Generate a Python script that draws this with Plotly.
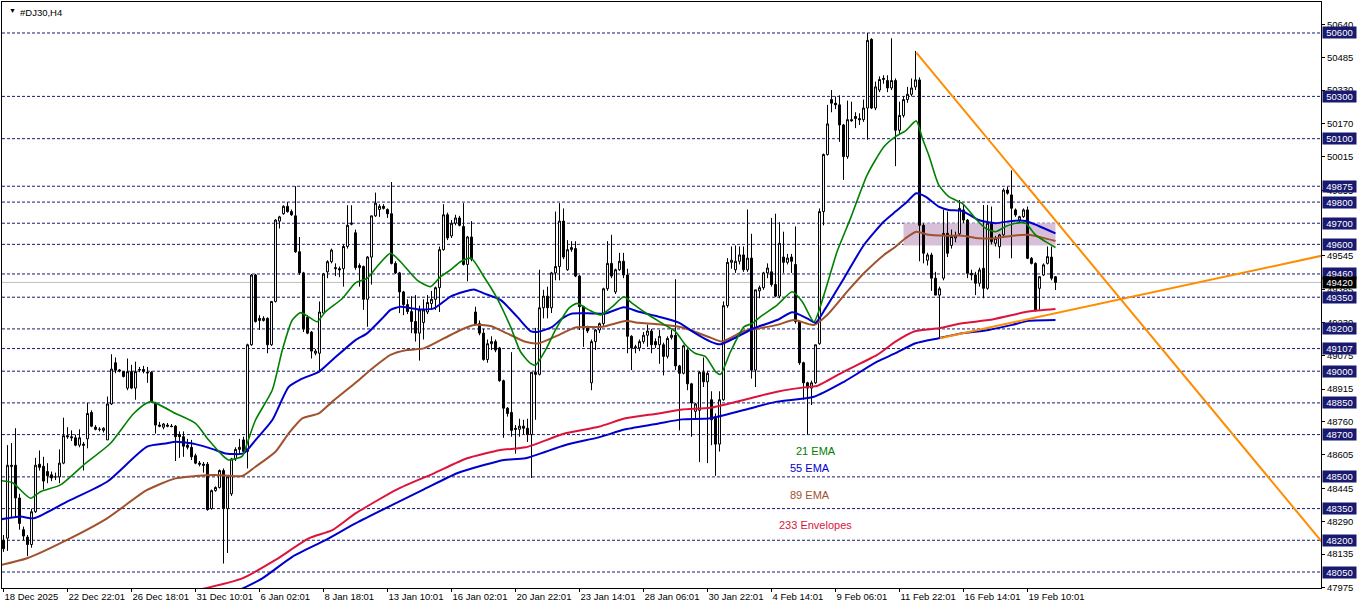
import plotly.graph_objects as go

# ---------------- data ----------------
ohlc_rows = [
(48200,48225,48145,48160),(48210,48650,48150,48555),(48555,48660,48310,48550),(48555,48730,48310,48400),
(48400,48420,48250,48280),(48250,48265,48200,48220),(48215,48225,48125,48180),(48180,48350,48165,48335),
(48335,48590,48330,48555),(48560,48625,48530,48545),(48550,48595,48440,48480),(48525,48565,48470,48505),
(48510,48525,48480,48495),(48500,48520,48485,48500),(48500,48630,48470,48565),(48565,48780,48560,48695),
(48695,48735,48680,48690),(48690,48720,48670,48685),(48685,48700,48645,48650),(48650,48725,48640,48685),
(48655,48665,48530,48650),(48680,48850,48635,48800),(48805,48815,48735,48740),(48735,48745,48720,48725),
(48725,48735,48715,48725),(48720,48735,48710,48730),(48675,48880,48675,48845),(48845,49080,48840,49010),
(49040,49065,48990,49005),(49000,49010,48995,49005),(48998,49000,48970,48975),(48920,49060,48910,48998),
(48998,49030,48915,48920),(48920,49045,48865,48998),(49005,49020,48995,49008),(49008,49025,48990,49000),
(48995,49020,48945,48992),(48995,49000,48850,48855),(48850,48855,48705,48745),(48745,48760,48735,48740),
(48735,48755,48725,48750),(48745,48755,48735,48740),(48740,48750,48735,48738),(48740,48745,48575,48690),
(48700,48715,48590,48690),(48690,48715,48595,48645),(48650,48680,48630,48640),(48640,48675,48580,48595),
(48600,48610,48560,48565),(48565,48575,48550,48560),(48560,48570,48520,48555),(48560,48570,48340,48345),
(48350,48440,48345,48435),(48435,48455,48430,48450),(48450,48535,48445,48530),(48530,48540,48090,48350),
(48350,48505,48140,48500),(48420,48590,48410,48585),(48585,48640,48575,48630),(48630,48680,48610,48640),
(48675,48690,48615,48620),(48620,49130,48540,49125),(49125,49460,49120,49455),(49455,49460,49230,49235),
(49250,49265,49195,49240),(49240,49260,49235,49250),(49250,49255,49085,49125),(49125,49330,49120,49330),
(49330,49720,49325,49715),(49710,49735,49675,49730),(49745,49785,49740,49780),(49780,49800,49750,49755),
(49755,49765,49735,49740),(49735,49875,49560,49565),(49565,49635,49455,49465),(49465,49470,49185,49200),
(49255,49265,49175,49180),(49185,49190,49060,49095),(49085,49105,49075,49095),(49085,49330,48995,49280),
(49275,49465,49270,49460),(49470,49525,49440,49518),(49518,49580,49510,49573),(49490,49510,49450,49485),
(49485,49495,49445,49480),(49485,49600,49400,49590),(49590,49785,49580,49690),(49695,49785,49690,49700),
(49655,49670,49480,49490),(49500,49510,49400,49490),(49495,49500,49290,49340),(49340,49545,49210,49540),
(49540,49735,49410,49735),(49735,49845,49730,49795),(49765,49790,49730,49780),(49780,49790,49765,49770),
(49765,49770,49725,49745),(49745,49895,49505,49510),(49510,49520,49460,49465),(49465,49470,49275,49375),
(49375,49380,49265,49315),(49315,49340,49270,49282),(49282,49355,49180,49235),(49235,49360,49140,49180),
(49180,49310,49050,49290),(49230,49340,49150,49290),(49280,49360,49270,49325),(49320,49380,49290,49340),
(49340,49400,49290,49395),(49395,49590,49280,49575),(49575,49790,49570,49740),(49740,49750,49620,49630),
(49640,49715,49630,49700),(49700,49740,49690,49725),(49725,49735,49685,49690),(49685,49795,49500,49505),
(49505,49640,49425,49635),(49635,49710,49520,49530),(49280,49305,49225,49225),(49225,49240,49170,49180),
(49180,49200,49050,49055),(49055,49150,49040,49130),(49130,49165,49100,49140),(49140,49150,49090,49100),
(49110,49115,48950,48955),(48955,48960,48685,48825),(48825,48830,48785,48800),(48805,49090,48690,48720),
(48730,48745,48610,48725),(48725,48775,48690,48740),(48740,48770,48700,48730),(48730,48775,48665,48700),
(48700,48995,48495,48995),(48995,49205,48770,48985),(48985,49480,48980,49300),(49300,49385,49250,49355),
(49355,49400,49250,49300),(49300,49470,49275,49465),(49465,49755,49430,49495),(49495,49795,49430,49710),
(49710,49770,49530,49540),(49480,49620,49475,49575),(49575,49615,49565,49585),(49580,49615,49445,49450),
(49450,49455,49195,49305),(49305,49310,49115,49210),(49210,49215,49180,49190),(48945,49150,48910,49140),
(49140,49200,49100,49195),(49195,49230,49180,49225),(49225,49395,49215,49390),(49390,49615,49380,49510),
(49510,49645,49440,49450),(49375,49485,49365,49480),(49480,49560,49475,49520),(49520,49560,49440,49455),
(49455,49485,49085,49165),(49165,49170,49005,49110),(49110,49125,49085,49115),(49110,49150,49095,49140),
(49140,49185,49130,49170),(49170,49220,49115,49190),(49190,49200,49085,49125),(49140,49155,49110,49125),
(49125,49195,49035,49165),(49125,49135,48980,49070),(49070,49165,49060,49155),(49160,49195,49150,49170),
(49170,49435,49005,49025),(49025,49030,48720,48990),(48990,49125,48985,49120),(49100,49105,48910,48940),
(48940,48945,48690,48850),(48810,48850,48770,48845),(48815,49000,48570,48995),(48995,49065,48925,48950),
(48950,49000,48565,48990),(48865,48905,48650,48770),(48785,48800,48505,48655),(48655,48905,48620,48865),
(48865,49330,48860,49310),(49310,49535,49300,49515),(49515,49590,49485,49525),(49480,49595,49465,49520),
(49520,49590,49505,49550),(49550,49590,49470,49480),(49480,49765,49470,49535),(49535,49650,48965,49005),
(49005,49385,48925,49385),(49380,49405,49345,49395),(49395,49470,49385,49465),(49465,49510,49440,49488),
(49470,49725,49400,49410),(49410,49745,49350,49355),(49355,49705,49345,49605),(49540,49660,49465,49515),
(49515,49555,49505,49535),(49540,49555,49465,49520),(49505,49685,49225,49235),(49235,49240,49030,49040),
(49040,49045,48865,48945),(48945,48950,48700,48920),(48920,48955,48840,48945),(48945,49125,48940,49125),
(49130,49770,49125,49755),(49755,50030,49690,50025),(50025,50260,50020,50170),(50285,50330,50225,50268),
(50268,50300,50240,50260),(50260,50305,50085,50165),(50165,50170,49905,50015),(50015,50280,50005,50190),
(50190,50275,50180,50185),(50205,50225,50150,50195),(50195,50220,50165,50190),(50190,50285,50180,50245),
(50245,50600,50095,50565),(50570,50575,50240,50245),(50245,50370,50235,50345),(50330,50395,50320,50380),
(50380,50400,50360,50385),(50375,50400,50320,50340),(50340,50575,50330,50375),(50375,50385,49970,50140),
(50140,50275,50120,50210),(50210,50300,50200,50285),(50285,50345,50270,50310),(50310,50385,50300,50340),
(50345,50515,50330,50378),(50378,50390,49520,49690),(49690,49700,49510,49558),(49525,49560,49500,49550),
(49550,49560,49380,49440),(49440,49470,49360,49360),(49360,49400,49155,49390),(49440,49765,49430,49652),
(49652,49755,49540,49558),(49595,49670,49580,49637),(49630,49660,49610,49640),(49650,49810,49640,49770),
(49763,49790,49700,49715),(49715,49720,49440,49463),(49463,49480,49430,49455),(49455,49470,49360,49416),
(49416,49490,49400,49479),(49487,49786,49345,49392),(49392,49786,49385,49700),(49700,49779,49600,49613),
(49605,49640,49590,49629),(49589,49650,49534,49645),(49645,49865,49640,49857),(49857,49873,49835,49842),
(49834,49950,49534,49771),(49763,49770,49730,49739),(49715,49735,49705,49731),(49731,49770,49725,49763),
(49763,49779,49530,49534),(49534,49540,49505,49510),(49510,49515,49282,49290),(49392,49450,49290,49447),
(49455,49510,49450,49503),(49510,49590,49505,49542),(49540,49590,49430,49440),(49447,49450,49384,49420),
]
opens = [r[0] for r in ohlc_rows]
highs = [r[1] for r in ohlc_rows]
lows = [r[2] for r in ohlc_rows]
closes = [r[3] for r in ohlc_rows]
bars = list(range(len(ohlc_rows)))

ema21_x = [-0.5,2.2,6.75,9.25,14.25,20,26.75,32.6,36.75,43,48,51.3,54.7,56.3,59.7,60.9,63,67.2,69.7,72.2,74.25,76.3,78.4,80.5,84.7,88,90.9,93.4,96.75,99.25,103.4,106.75,109.25,111.75,114.25,116.9,120.1,123.4,126.75,129.25,131.75,133,135.5,138,141.3,143.4,146.3,149.25,152.2,155.1,157.2,161.3,164.7,168,170.5,173,175.5,178,179.25,181.75,185.1,187.2,189.25,193.4,197.2,199.7,202.6,205.1,208.4,211.75,215.9,220.1,223,225.5,228.2,229.7,231.3,233.8,236.3,239.7,243,245.5,248,250.5,253,255.5,258,260.5,263]
ema21_y = [48482,48473,48399,48430,48462,48556,48659,48801,48856,48800,48753,48674,48603,48580,48598,48658,48769,48911,49100,49242,49277,49257,49234,49281,49344,49418,49439,49495,49558,49518,49431,49400,49447,49479,49518,49534,49447,49345,49211,49092,49037,49029,49100,49195,49297,49321,49290,49266,49305,49352,49321,49266,49226,49187,49124,49084,49069,48998,48985,49092,49210,49226,49258,49313,49376,49329,49234,49360,49566,49723,49928,50062,50110,50137,50184,50102,50023,49881,49826,49794,49723,49676,49660,49684,49700,49700,49645,49613,49585]

ema55_x = [-0.75,4.25,7.6,15.9,25.9,35.9,40.9,43,48,53,55.5,60,63,67.2,71.3,74.25,78.8,82.2,88,90.9,95.1,96.75,99.25,103.4,107.6,111.75,115.1,117.6,120.1,124.25,128.4,131.75,133.8,137.2,139.7,142.2,147.2,150.5,155.1,158.8,163.8,168.8,173,176.75,179.25,183.4,187.6,193.4,197.2,200.9,203,205.5,210.1,215.1,220.1,223,225.5,228.2,230.5,233.8,236.3,239.7,243.8,248,252.2,255.5,258.8,263]
ema55_y = [48299,48312,48304,48383,48477,48643,48659,48666,48655,48627,48611,48611,48674,48769,48926,48961,48997,49053,49147,49179,49258,49290,49305,49293,49297,49353,49376,49387,49368,49337,49258,49190,49187,49210,49250,49273,49273,49273,49302,49281,49258,49230,49179,49140,49127,49163,49203,49242,49279,49250,49229,49297,49439,49597,49708,49755,49794,49842,49826,49779,49763,49758,49715,49700,49711,49711,49687,49652]

ema89_x = [-0.75,5.9,15.9,25.9,35.9,43,48,53,59.7,63,68,71.3,74.7,78.8,82.2,88,91.75,96.75,100.9,105.1,110.1,114.25,117.6,121.75,125.9,130.5,133.8,138.8,143,149.7,155.5,158.8,163.8,169.7,176.75,179.7,185.1,187.6,193.4,197.6,202.6,205.9,210.9,215.1,220.1,223,225.5,228.2,231.3,235.5,239.7,243.8,248,252.2,256.3,259.7,263]
ema89_y = [48083,48115,48202,48304,48438,48493,48504,48509,48504,48548,48619,48706,48777,48800,48856,48945,49006,49077,49100,49108,49155,49195,49219,49214,49179,49139,49132,49171,49207,49210,49237,49229,49222,49207,49159,49140,49190,49198,49219,49242,49219,49266,49376,49463,49550,49589,49629,49660,49645,49641,49641,49629,49629,49641,49645,49632,49616]

env_up_x = [47.5,59.7,68,76.3,82.2,88,98.4,107.6,115.9,124.25,130.5,140.5,148.8,155.5,163.8,169.7,176.75,185.1,193.4,201.75,203.4,210.1,218.4,223,228,233.8,239.7,246.3,252.2,256.3,263]
env_up_y = [47960,48020,48107,48209,48248,48327,48441,48517,48588,48627,48640,48706,48737,48777,48800,48819,48827,48864,48903,48927,48930,48998,49077,49140,49190,49203,49227,49242,49266,49282,49294]

env_dn_x = [59,64.7,72.2,80.5,88,105.1,113.4,120.1,125.1,130.5,140.5,148.8,155.5,163.8,169.7,176.75,185.1,193.4,202.6,210.1,218.4,223,228,233.8,239.7,246.3,252.2,256.3,263]
env_dn_y = [47965,48020,48122,48201,48280,48441,48517,48556,48580,48588,48651,48687,48725,48753,48772,48777,48816,48856,48879,48950,49045,49085,49132,49156,49179,49195,49219,49238,49242]

x_tick_bars = [0,16,32,48,64,80,96,112,128,144,160,176,192,208,224,240,256]
x_tick_labels = ["18 Dec 2025","22 Dec 22:01","26 Dec 18:01","31 Dec 10:01","6 Jan 02:01","8 Jan 18:01",
                 "13 Jan 10:01","16 Jan 02:01","20 Jan 22:01","23 Jan 14:01","28 Jan 06:01","30 Jan 22:01",
                 "4 Feb 14:01","9 Feb 06:01","11 Feb 22:01","16 Feb 14:01","19 Feb 10:01"]
y_ticks = [50640,50485,50330,50170,50015,49855,49545,49385,49230,49075,48915,48760,48605,48445,48290,48135,47975]
level_prices = [50600,50300,50100,49875,49800,49700,49600,49460,49350,49200,49107,49000,48850,48700,48500,48350,48200,48050]
current_price = 49420

down_trend_x = [228.2, 329.5]
down_trend_y = [50507, 48195]
up_trend_x = [234.1, 329.5]
up_trend_y = [49156, 49546]
zone_x = [225, 263]
zone_y = [49595, 49700]

legend_labels = ["21 EMA", "55 EMA", "89 EMA", "233 Envelopes"]
legend_x = [203, 201.5, 201.5, 203]
legend_y = [48622, 48542, 48414, 48272]

# ---------------- styling ----------------
FONT = "Liberation Sans"
NAVY = "#191970"
GREEN = "#008000"
BLUE = "#0000CD"
BROWN = "#A0522D"
CRIMSON = "#DC143C"
ORANGE = "#FF8C00"
legend_colors = [GREEN, BLUE, BROWN, CRIMSON]

fig = go.Figure()

fig.add_trace(go.Candlestick(
    x=bars, open=opens, high=highs, low=lows, close=closes,
    increasing=dict(line=dict(color="black", width=1), fillcolor="white"),
    decreasing=dict(line=dict(color="black", width=1), fillcolor="black"),
    whiskerwidth=0, hoverinfo="skip", showlegend=False,
))

def add_line(xs, ys, color, width):
    fig.add_trace(go.Scatter(x=xs, y=ys, mode="lines",
                             line=dict(color=color, width=width, shape="spline", smoothing=0.6),
                             hoverinfo="skip", showlegend=False))

add_line(env_dn_x, env_dn_y, BLUE, 2)
add_line(env_up_x, env_up_y, CRIMSON, 2)
add_line(ema89_x, ema89_y, BROWN, 2)
add_line(ema55_x, ema55_y, BLUE, 2)
add_line(ema21_x, ema21_y, GREEN, 1.6)

fig.add_trace(go.Scatter(x=down_trend_x, y=down_trend_y, mode="lines",
                         line=dict(color=ORANGE, width=2), hoverinfo="skip", showlegend=False))
fig.add_trace(go.Scatter(x=up_trend_x, y=up_trend_y, mode="lines",
                         line=dict(color=ORANGE, width=2), hoverinfo="skip", showlegend=False))

shapes = []
shapes.append(dict(type="rect", xref="x", yref="y", x0=zone_x[0], x1=zone_x[1],
                   y0=zone_y[0], y1=zone_y[1], fillcolor="#D8BFD8", line=dict(width=0), layer="below"))
for p in level_prices:
    shapes.append(dict(type="line", xref="paper", yref="y", x0=0, x1=1, y0=p, y1=p,
                       line=dict(color=NAVY, width=1, dash="3px,2px"), layer="below"))
shapes.append(dict(type="line", xref="paper", yref="y", x0=0, x1=1, y0=current_price, y1=current_price,
                   line=dict(color="#C0C0C0", width=1), layer="below"))

annotations = []
for p in level_prices:
    annotations.append(dict(xref="paper", yref="y", x=1, y=p, xanchor="left", yanchor="middle",
                            xshift=1, text=str(p), showarrow=False, bgcolor=NAVY,
                            font=dict(family=FONT, size=9.5, color="white"),
                            width=33, height=11, borderpad=0, align="center"))
annotations.append(dict(xref="paper", yref="y", x=1, y=current_price, xanchor="left", yanchor="middle",
                        xshift=1, text=str(current_price), showarrow=False, bgcolor="black",
                        font=dict(family=FONT, size=9.5, color="white"),
                        width=33, height=11, borderpad=0, align="center"))
for t, xx, yy, c in zip(legend_labels, legend_x, legend_y, legend_colors):
    annotations.append(dict(xref="x", yref="y", x=xx, y=yy, text=t, showarrow=False,
                            font=dict(family=FONT, size=11, color=c), xanchor="center", yanchor="middle"))
annotations.append(dict(xref="paper", yref="paper", x=0, y=1, xanchor="left", yanchor="top",
                        xshift=5, yshift=-3, text="▼", showarrow=False,
                        font=dict(family=FONT, size=7, color="black")))
annotations.append(dict(xref="paper", yref="paper", x=0, y=1, xanchor="left", yanchor="top",
                        xshift=16, yshift=-3, text="#DJ30,H4", showarrow=False,
                        font=dict(family=FONT, size=9.5, color="black")))

fig.update_layout(
    width=1362, height=611,
    margin=dict(l=2, r=41, t=2, b=23, autoexpand=False),
    paper_bgcolor="white", plot_bgcolor="white",
    font=dict(family=FONT, size=9.5, color="black"),
    shapes=shapes, annotations=annotations,
    showlegend=False, hovermode=False,
    xaxis=dict(range=[-0.375, 329.375], tickmode="array", tickvals=x_tick_bars, ticktext=x_tick_labels,
               ticks="outside", ticklen=3, tickcolor="black", ticklabelposition="outside right",
               tickangle=0, automargin=False,
               showgrid=False, zeroline=False, showline=True, linecolor="black", linewidth=1,
               mirror=True, rangeslider=dict(visible=False), fixedrange=True,
               tickfont=dict(family=FONT, size=9.5, color="black")),
    yaxis=dict(range=[47974.3, 50746.6], side="right", tickmode="array", tickvals=y_ticks,
               ticktext=[str(v) for v in y_ticks], ticks="outside", ticklen=3, tickcolor="black",
               automargin=False,
               showgrid=False, zeroline=False, showline=True, linecolor="black", linewidth=1,
               mirror=True, fixedrange=True, tickfont=dict(family=FONT, size=9.5, color="black")),
)

fig.write_html("out.html", config={"displayModeBar": False},
               post_script="document.body.style.margin='0';document.body.style.overflow='hidden';")
